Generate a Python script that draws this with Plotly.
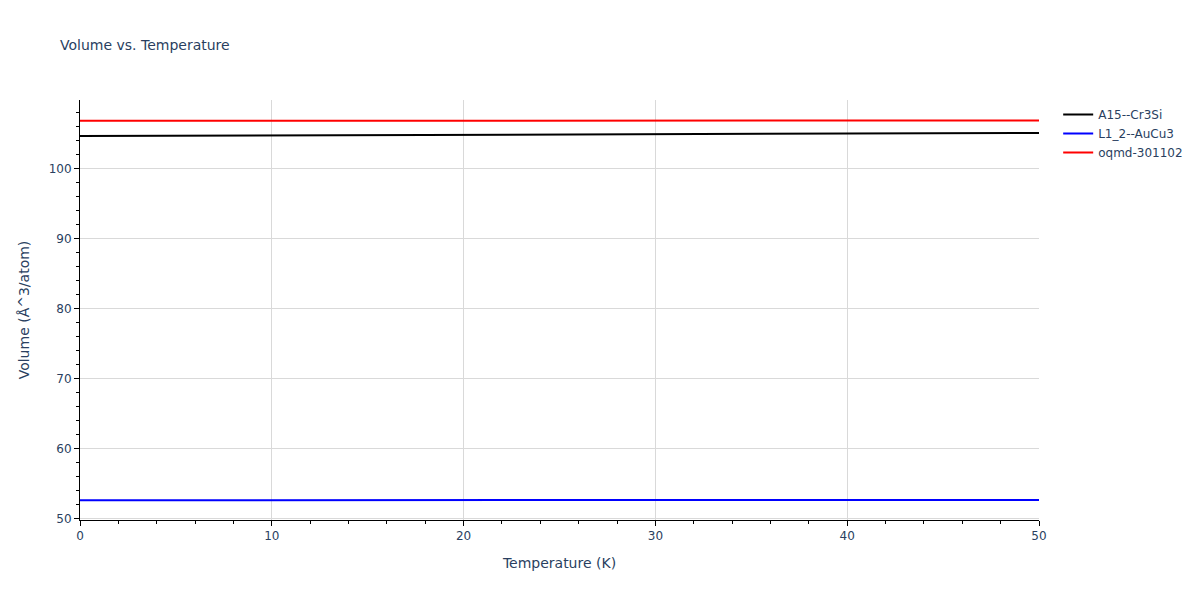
import plotly.graph_objects as go

temperature = [0, 10, 20, 30, 40, 50]
a15_cr3si = [104.70, 104.78, 104.87, 104.96, 105.05, 105.15]
l12_aucu3 = [52.68, 52.68, 52.69, 52.69, 52.70, 52.71]
oqmd_301102 = [106.87, 106.88, 106.89, 106.90, 106.91, 106.92]

series = [
    ("A15--Cr3Si", a15_cr3si, "black"),
    ("L1_2--AuCu3", l12_aucu3, "blue"),
    ("oqmd-301102", oqmd_301102, "red"),
]

fig = go.Figure()
for name, vals, color in series:
    fig.add_trace(go.Scatter(x=temperature, y=vals, mode="lines", name=name,
                             line=dict(color=color, width=2)))

axis_common = dict(
    showline=True, linecolor="black", linewidth=1,
    ticks="outside", tickcolor="black",
    showgrid=True, gridcolor="#d9d9d9", zeroline=False,
)
fig.update_layout(
    title=dict(text="Volume vs. Temperature", font=dict(size=14)),
    font=dict(family="DejaVu Sans"),
    width=1200, height=600,
    margin=dict(l=80, r=80, t=100, b=80),
    plot_bgcolor="white", paper_bgcolor="white",
    xaxis=dict(title="Temperature (K)", range=[0, 50],
               minor=dict(ticks="outside", dtick=2, tickcolor="black", showgrid=False),
               **axis_common),
    yaxis=dict(title="Volume (Å^3/atom)", range=[49.85, 109.85],
               minor=dict(ticks="outside", dtick=2, tickcolor="black", showgrid=False),
               **axis_common),
)
fig.write_html("out.html", config={"displayModeBar": False},
               post_script="document.body.style.margin='0';")
